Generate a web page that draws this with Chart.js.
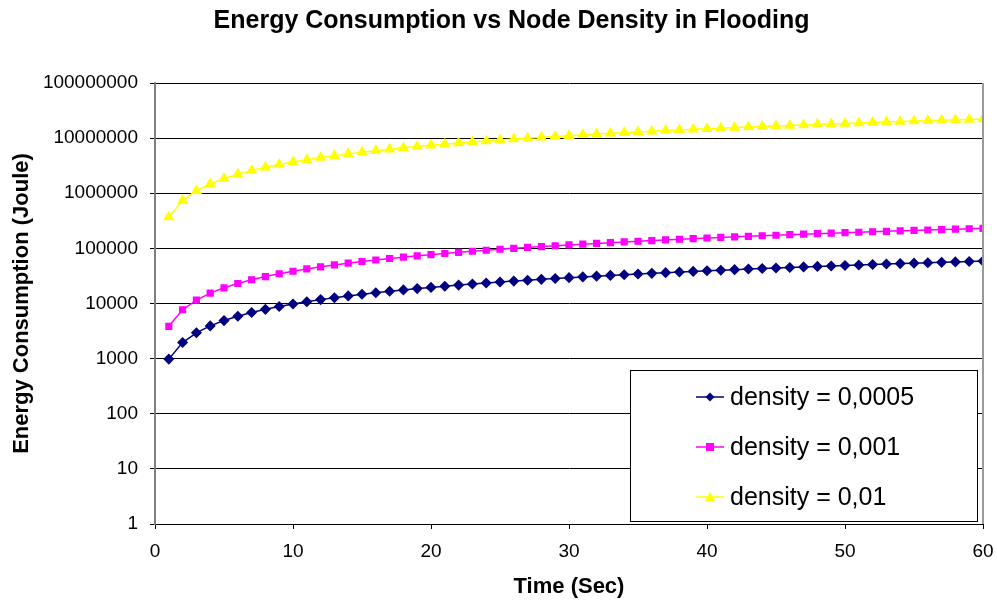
<!DOCTYPE html>
<html>
<head>
<meta charset="utf-8">
<script src="https://cdn.jsdelivr.net/npm/chart.js@4/dist/chart.umd.min.js"></script>
<style>
  html, body { margin: 0; padding: 0; background: #fff; }
  #wrap { width: 997px; height: 602px; }
</style>
</head>
<body>
<div id="wrap"><canvas id="chart" width="997" height="602"></canvas></div>
<script>
// time axis (seconds)
const timeSec = [1, 2, 3, 4, 5, 6, 7, 8, 9, 10, 11, 12, 13, 14, 15, 16, 17, 18, 19, 20,
    21, 22, 23, 24, 25, 26, 27, 28, 29, 30, 31, 32, 33, 34, 35, 36, 37, 38, 39, 40,
    41, 42, 43, 44, 45, 46, 47, 48, 49, 50, 51, 52, 53, 54, 55, 56, 57, 58, 59, 60];

// energy consumption (Joule)
const density00005 = [980, 1960, 2940, 3920, 4900, 5880, 6860, 7840, 8820, 9800,
    10780, 11760, 12740, 13720, 14700, 15680, 16660, 17640, 18620, 19600,
    20580, 21560, 22540, 23520, 24500, 25480, 26460, 27440, 28420, 29400,
    30380, 31360, 32340, 33320, 34300, 35280, 36260, 37240, 38220, 39200,
    40180, 41160, 42140, 43120, 44100, 45080, 46060, 47040, 48020, 49000,
    49980, 50960, 51940, 52920, 53900, 54880, 55860, 56840, 57820, 58800];

const density0001 = [3850, 7700, 11550, 15400, 19250, 23100, 26950, 30800, 34650, 38500,
    42350, 46200, 50050, 53900, 57750, 61600, 65450, 69300, 73150, 77000,
    80850, 84700, 88550, 92400, 96250, 100100, 103950, 107800, 111650, 115500,
    119350, 123200, 127050, 130900, 134750, 138600, 142450, 146300, 150150, 154000,
    157850, 161700, 165550, 169400, 173250, 177100, 180950, 184800, 188650, 192500,
    196350, 200200, 204050, 207900, 211750, 215600, 219450, 223300, 227150, 231000];

const density001 = [370000, 740000, 1110000, 1480000, 1850000, 2220000, 2590000, 2960000, 3330000, 3700000,
    4070000, 4440000, 4810000, 5180000, 5550000, 5920000, 6290000, 6660000, 7030000, 7400000,
    7770000, 8140000, 8510000, 8880000, 9250000, 9620000, 9990000, 10360000, 10730000, 11100000,
    11470000, 11840000, 12210000, 12580000, 12950000, 13320000, 13690000, 14060000, 14430000, 14800000,
    15170000, 15540000, 15910000, 16280000, 16650000, 17020000, 17390000, 17760000, 18130000, 18500000,
    18870000, 19240000, 19610000, 19980000, 20350000, 20720000, 21090000, 21460000, 21830000, 22200000];

const seriesLabels = ['density = 0,0005', 'density = 0,001', 'density = 0,01'];
const yTicks = [1, 10, 100, 1000, 10000, 100000, 1000000, 10000000, 100000000];
const xTicks = [0, 10, 20, 30, 40, 50, 60];

const FONT = "'Liberation Sans', Arial, sans-serif";

function toPoints(values) {
    return values.map((v, i) => ({ x: timeSec[i], y: v }));
}

// gray right border of the plot area + boxed legend inside it
const frameAndLegend = {
    id: 'frameAndLegend',
    afterLayout(chart) {
        // title sits a bit right of the canvas centre in the original
        if (chart.titleBlock) {
            chart.titleBlock.left += 20;
            chart.titleBlock.right += 20;
        }
    },
    afterDraw(chart) {
        const { ctx, chartArea } = chart;
        ctx.save();
        ctx.strokeStyle = '#9a9a9a';
        ctx.lineWidth = 2;
        ctx.beginPath();
        ctx.moveTo(chartArea.right, chartArea.top);
        ctx.lineTo(chartArea.right, chartArea.bottom);
        ctx.stroke();

        // legend box
        const bx = 630, by = 370, bw = 347, bh = 151;
        ctx.fillStyle = '#fff';
        ctx.fillRect(bx, by, bw, bh);
        ctx.strokeStyle = '#000';
        ctx.lineWidth = 1;
        ctx.strokeRect(bx + 0.5, by + 0.5, bw, bh);

        ctx.font = '25px ' + FONT;
        ctx.textBaseline = 'middle';
        chart.data.datasets.forEach((ds, i) => {
            const y = by + 27 + i * 50;
            ctx.strokeStyle = ds.borderColor;
            ctx.lineWidth = 1.5;
            ctx.beginPath();
            ctx.moveTo(696, y);
            ctx.lineTo(724, y);
            ctx.stroke();
            ctx.fillStyle = ds.backgroundColor;
            drawMarker(ctx, ds.pointStyle, 710, y, ds.pointRadius);
            ctx.fillStyle = '#000';
            ctx.fillText(ds.label, 730, y + 1);
        });
        ctx.restore();
    }
};

function drawMarker(ctx, style, x, y, r) {
    ctx.beginPath();
    if (style === 'rectRot') {
        ctx.moveTo(x, y - r); ctx.lineTo(x + r, y); ctx.lineTo(x, y + r); ctx.lineTo(x - r, y);
    } else if (style === 'rect') {
        ctx.rect(x - r, y - r, 2 * r, 2 * r);
    } else {
        ctx.moveTo(x, y - r); ctx.lineTo(x + r, y + r * 0.8); ctx.lineTo(x - r, y + r * 0.8);
    }
    ctx.closePath();
    ctx.fill();
}

new Chart(document.getElementById('chart'), {
    type: 'line',
    data: {
        datasets: [
            {
                label: seriesLabels[0],
                data: toPoints(density00005),
                borderColor: '#000080',
                backgroundColor: '#000080',
                pointStyle: 'rectRot',
                pointRadius: 4.5,
                borderWidth: 1.5
            },
            {
                label: seriesLabels[1],
                data: toPoints(density0001),
                borderColor: '#ff00ff',
                backgroundColor: '#ff00ff',
                pointStyle: 'rect',
                pointRadius: 4,
                borderWidth: 1.5
            },
            {
                label: seriesLabels[2],
                data: toPoints(density001),
                borderColor: '#ffff00',
                backgroundColor: '#ffff00',
                pointStyle: 'triangle',
                pointRadius: 5,
                borderWidth: 1.5
            }
        ]
    },
    options: {
        responsive: false,
        animation: false,
        layout: { padding: { left: 0, right: 14, top: 0, bottom: 0 } },
        elements: {
            point: { borderWidth: 0, hoverRadius: 4 },
            line: { tension: 0 }
        },
        plugins: {
            legend: { display: false },
            tooltip: { enabled: false },
            title: {
                display: true,
                text: 'Energy Consumption vs Node Density in Flooding',
                color: '#000',
                font: { family: FONT, size: 25, weight: 'bold', lineHeight: 1.2 },
                padding: { top: 6, bottom: 47 }
            }
        },
        scales: {
            x: {
                type: 'linear',
                min: 0,
                max: 60,
                afterBuildTicks: s => { s.ticks = xTicks.map(v => ({ value: v })); },
                afterFit: s => { s.height = 78; s.paddingRight = 0; s.paddingLeft = 0; },
                grid: { drawOnChartArea: false, drawTicks: true, tickLength: 5, color: '#000' },
                border: { color: '#000', width: 1 },
                ticks: {
                    color: '#000',
                    padding: 11,
                    maxRotation: 0,
                    font: { family: FONT, size: 19 }
                },
                title: {
                    display: true,
                    text: 'Time (Sec)',
                    color: '#000',
                    font: { family: FONT, size: 22, weight: 'bold', lineHeight: 1.2 },
                    padding: { top: 0, bottom: 2 }
                }
            },
            y: {
                type: 'logarithmic',
                min: 1,
                max: 100000000,
                afterBuildTicks: s => { s.ticks = yTicks.map(v => ({ value: v })); },
                afterFit: s => { s.width = 155; },
                grid: { color: '#000', lineWidth: 1, tickLength: 5 },
                border: { color: '#808080', width: 2 },
                ticks: {
                    color: '#000',
                    padding: 12,
                    font: { family: FONT, size: 19 },
                    callback: v => String(v)
                },
                title: {
                    display: true,
                    text: 'Energy Consumption (Joule)',
                    color: '#000',
                    font: { family: FONT, size: 22, weight: 'bold', lineHeight: 1.2 },
                    padding: { top: 9, bottom: 0 }
                }
            }
        }
    },
    plugins: [frameAndLegend]
});
</script>
</body>
</html>
